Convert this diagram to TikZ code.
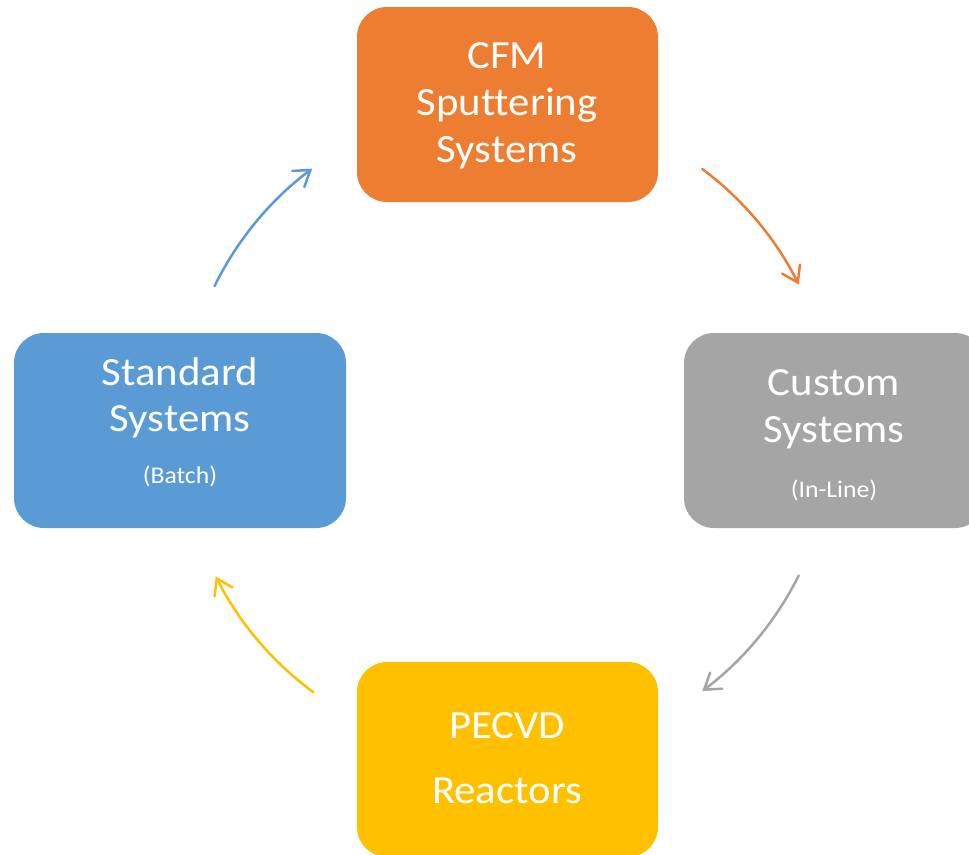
\documentclass[tikz,border=0pt]{standalone}
\usepackage{fontspec}
\setmainfont[FakeStretch=1.07, Ligatures=NoCommon]{Carlito}
\usetikzlibrary{arrows.meta,calc}

\definecolor{cfmorange}{HTML}{ED7D31}
\definecolor{customgray}{HTML}{A5A5A5}
\definecolor{pecvdyellow}{HTML}{FFC000}
\definecolor{stdblue}{HTML}{5B9BD5}

\tikzset{
  card/.style={rectangle, rounded corners=30pt, draw=none, inner sep=0pt,
    minimum width=301pt, minimum height=195pt},
  bigtxt/.style={anchor=base, inner sep=0pt, text=white,
    font=\fontsize{40pt}{47pt}\selectfont},
  smalltxt/.style={anchor=base, inner sep=0pt, text=white,
    font=\fontsize{24pt}{28pt}\selectfont},
  cyclearrow/.style={line width=2.5pt, line cap=round,
    -{Straight Barb[length=15pt,width=20pt,line cap=round]}},
}

\begin{document}
\begin{tikzpicture}[x=1pt, y=-1pt]
  \useasboundingbox (0,0) rectangle (969,854);
  \clip (0,0) rectangle (969,854);

  % the four cards
  \node[card, fill=cfmorange]   (cfm)    at (507.5,104.5) {};
  \node[card, fill=customgray]  (custom) at (834.5,430.5) {};
  \node[card, fill=pecvdyellow] (pecvd)  at (507.5,759.5) {};
  \node[card, fill=stdblue, minimum width=332pt] (std) at (180,430.5) {};

  % card labels
  \node[bigtxt] (cfmA) at (507,68)  {CFM};
  \node[bigtxt] (cfmB) at (507,115) {Sputtering};
  \node[bigtxt] (cfmC) at (507,162) {Systems};

  \node[bigtxt]   (custA) at (834,395) {Custom};
  \node[bigtxt]   (custB) at (834,442) {Systems};
  \node[smalltxt] (custC) at (834,497) {(In-Line)};

  \node[bigtxt] (pecA) at (507,738) {PECVD};
  \node[bigtxt] (pecB) at (507,803) {Reactors};

  \node[bigtxt]   (stdA) at (180,385) {Standard};
  \node[bigtxt]   (stdB) at (180,431) {Systems};
  \node[smalltxt] (stdC) at (180,483) {(Batch)};

  % cycle arrows: arcs of one circle about the centre of the layout
  \coordinate (mid) at (507,430);
  \coordinate (bS) at ($(mid)+(153.8:326pt)$);
  \coordinate (oS) at ($(mid)+(53.2:326pt)$);
  \coordinate (gS) at ($(mid)+(-26.5:326pt)$);
  \coordinate (yS) at ($(mid)+(233.6:326pt)$);

  \draw[cyclearrow, stdblue]     (bS) arc[start angle=153.8, end angle=126.7, radius=326pt];
  \draw[cyclearrow, cfmorange]   (oS) arc[start angle=53.2,  end angle=26.5,  radius=326pt];
  \draw[cyclearrow, customgray]  (gS) arc[start angle=-26.5, end angle=-53.2, radius=326pt];
  \draw[cyclearrow, pecvdyellow] (yS) arc[start angle=233.6, end angle=206.7, radius=326pt];
\end{tikzpicture}
\end{document}
